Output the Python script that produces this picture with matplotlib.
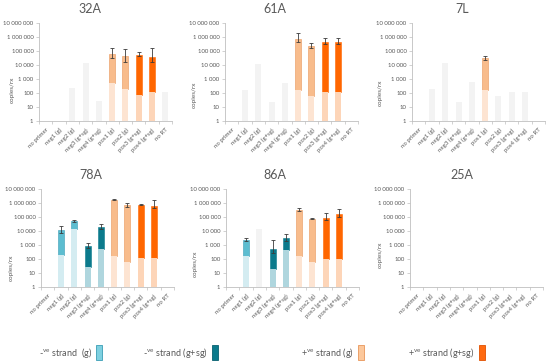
import numpy as np
import matplotlib
matplotlib.use("Agg")
import matplotlib.pyplot as plt
from matplotlib.patches import Rectangle

plt.rcParams['font.family'] = ['Lato', 'DejaVu Sans']
plt.rcParams['mathtext.fontset'] = 'custom'
plt.rcParams['mathtext.rm'] = 'Lato'
plt.rcParams['mathtext.it'] = 'Lato:italic'

nan = np.nan
categories = ["no primer", "neg1 (g)", "neg2 (g)", "neg3 (g+sg)", "neg4 (g+sg)",
              "pos1 (g)", "pos2 (g)", "pos3 (g+sg)", "pos4 (g+sg)", "no RT"]
cat_type = ["none", "neg_g", "neg_g", "neg_gsg", "neg_gsg",
            "pos_g", "pos_g", "pos_gsg", "pos_gsg", "none"]
panel_titles = ["32A", "61A", "7L", "78A", "86A", "25A"]

# background (threshold) level per category
bg_32A = [nan, nan, 210, 13800, 26, 520, 185, 70, 126, 120]
bg_61A = [nan, 170, 12000, 24, 520, 170, 65, 110, 110, nan]
bg_7L  = [nan, 190, 13000, 24, 570, 170, 65, 110, 110, nan]
bg_78A = [nan, 190, 15000, 27, 550, 170, 65, 125, 125, nan]
bg_86A = [nan, 165, 14000, 20, 455, 165, 65, 107, 107, nan]
bg_25A = [nan] * 10

# signal (copies/rx)
sig_32A = [nan, nan, nan, nan, nan, 63000, 43000, 56000, 39000, nan]
sig_61A = [nan, nan, nan, nan, nan, 720000, 215000, 470000, 470000, nan]
sig_7L  = [nan, nan, nan, nan, nan, 32000, nan, nan, nan, nan]
sig_78A = [nan, 11000, 48000, 850, 19000, 1700000, 720000, 760000, 650000, nan]
sig_86A = [nan, 2400, nan, 500, 3000, 340000, 76000, 89000, 155000, nan]
sig_25A = [nan] * 10

# error bar ends (low, high)
lo_32A = [nan, nan, nan, nan, nan, 31000, 16000, 43000, 16000, nan]
hi_32A = [nan, nan, nan, nan, nan, 166000, 135000, 83000, 166000, nan]
lo_61A = [nan, nan, nan, nan, nan, 420000, 163000, 300000, 300000, nan]
hi_61A = [nan, nan, nan, nan, nan, 1900000, 350000, 900000, 900000, nan]
lo_7L  = [nan, nan, nan, nan, nan, 23000, nan, nan, nan, nan]
hi_7L  = [nan, nan, nan, nan, nan, 44000, nan, nan, nan, nan]
lo_78A = [nan, 7600, 41000, 650, 13000, 1620000, 550000, 690000, 420000, nan]
hi_78A = [nan, 21000, 60000, 1480, 33000, 1780000, 1000000, 830000, 1550000, nan]
lo_86A = [nan, 1800, nan, 290, 2000, 260000, 72000, 57000, 100000, nan]
hi_86A = [nan, 3000, nan, 2300, 6300, 450000, 80000, 200000, 400000, nan]
lo_25A = [nan] * 10
hi_25A = [nan] * 10

bgs = [bg_32A, bg_61A, bg_7L, bg_78A, bg_86A, bg_25A]
sigs = [sig_32A, sig_61A, sig_7L, sig_78A, sig_86A, sig_25A]
los = [lo_32A, lo_61A, lo_7L, lo_78A, lo_86A, lo_25A]
his = [hi_32A, hi_61A, hi_7L, hi_78A, hi_86A, hi_25A]

main_col = {"neg_g": "#5CBDD0", "neg_gsg": "#0B7A8C", "pos_g": "#F8BC8C", "pos_gsg": "#FF6600"}
edge_col = {"neg_g": "#3A9DB5", "neg_gsg": "#0B7A8C", "pos_g": "#E8965A", "pos_gsg": "#FF6600"}
light_col = {"neg_g": "#D4ECF1", "neg_gsg": "#AFD6DE", "pos_g": "#FDE4D2", "pos_gsg": "#FDD5B8"}
grey_col = "#F3F3F3"
txt_col = "#595959"
axis_col = "#BFBFBF"

W, H = 550, 363
fig = plt.figure(figsize=(5.5, 3.63), dpi=100)

# panel placements in pixels: left, right, top, bottom
boxes = [(39, 172, 23, 121), (225, 358, 23, 121), (412, 545, 23, 121),
         (41, 174, 189, 287), (226, 359, 189, 287), (410, 543, 189, 287)]
title_pos = [(90, 9), (275, 9), (462, 9), (91, 175), (275, 175), (462, 175)]
ylab_pos = [(12, 90), (194, 95), (380, 93), (11, 268), (195, 264), (380, 255)]

x = np.arange(len(categories))
bw = 0.45
yticks = [1, 10, 100, 1000, 10000, 100000, 1000000, 10000000]

for k in range(6):
    l, r, t, b = boxes[k]
    ax = fig.add_axes([l / W, 1 - b / H, (r - l) / W, (b - t) / H])
    bg, sig, lo, hi = bgs[k], sigs[k], los[k], his[k]
    for i in range(len(categories)):
        ct = cat_type[i]
        if not np.isnan(sig[i]):
            ax.bar(x[i], sig[i] - bg[i], bottom=bg[i], width=bw, color=main_col[ct],
                   edgecolor=edge_col[ct], linewidth=0.4, zorder=2)
            ax.bar(x[i], bg[i] - 1, bottom=1, width=bw, color=light_col[ct],
                   linewidth=0, zorder=2)
            if not np.isnan(lo[i]):
                ax.errorbar(x[i], sig[i], yerr=[[sig[i] - lo[i]], [hi[i] - sig[i]]],
                            fmt='none', ecolor="#3A3A3A", elinewidth=0.6, capsize=1.6,
                            capthick=0.6, zorder=3)
        elif not np.isnan(bg[i]):
            ax.bar(x[i], bg[i] - 1, bottom=1, width=bw, color=grey_col, linewidth=0, zorder=1)
    ax.set_yscale('log')
    ax.set_ylim(1, 1e7)
    ax.set_xlim(-0.5, len(categories) - 0.5)
    ax.set_yticks(yticks)
    ax.set_yticklabels([f"{v:,}".replace(",", " ") for v in yticks])
    ax.yaxis.set_minor_locator(matplotlib.ticker.NullLocator())
    ax.set_xticks(x)
    ax.set_xticklabels(categories, rotation=45, ha='right', rotation_mode='anchor')
    ax.set_xticks(np.arange(-0.5, len(categories)), minor=True)
    ax.tick_params(axis='x', which='major', length=0, pad=4.5, labelsize=4.4, labelcolor=txt_col)
    ax.tick_params(axis='x', which='minor', length=2, width=0.5, color=axis_col)
    ax.tick_params(axis='y', which='major', length=2, width=0.5, color=axis_col,
                   labelsize=4.3, labelcolor=txt_col, pad=2)
    for s in ['top', 'right']:
        ax.spines[s].set_visible(False)
    for s in ['left', 'bottom']:
        ax.spines[s].set_color(axis_col)
        ax.spines[s].set_linewidth(0.6)
    ax.set_facecolor('none')
    tx, ty = title_pos[k]
    fig.text(tx / W, 1 - ty / H, panel_titles[k], ha='center', va='center',
             fontsize=9, color=txt_col)
    yx, yy = ylab_pos[k]
    fig.text(yx / W, 1 - yy / H, "copies/rx", rotation=90, ha='center', va='center',
             fontsize=4.6, color=txt_col)

# legend
legend_labels = [r"-$^{\mathrm{ve}}$ strand  (g)", r"-$^{\mathrm{ve}}$ strand (g+sg)",
                 r"+$^{\mathrm{ve}}$ strand (g)", r"+$^{\mathrm{ve}}$ strand (g+sg)"]
legend_types = ["neg_g", "neg_gsg", "pos_g", "pos_gsg"]
legend_fill = {"neg_g": "#7ED0E0", "neg_gsg": "#0B7A8C", "pos_g": "#FCC89C", "pos_gsg": "#FF6A10"}
legend_edge = {"neg_g": "#3A9DB5", "neg_gsg": "#086070", "pos_g": "#E8965A", "pos_gsg": "#E05000"}
patch_x = [96, 212, 358, 479]
for lab, ct, px in zip(legend_labels, legend_types, patch_x):
    fig.text((px - 4) / W, 1 - 353 / H, lab, ha='right', va='center', fontsize=6.5, color=txt_col)
    fig.patches.append(Rectangle((px / W, 1 - 360 / H), 6 / W, 15 / H, transform=fig.transFigure,
                                 facecolor=legend_fill[ct], edgecolor=legend_edge[ct], linewidth=0.6))

fig.savefig("out.png", dpi=100)
